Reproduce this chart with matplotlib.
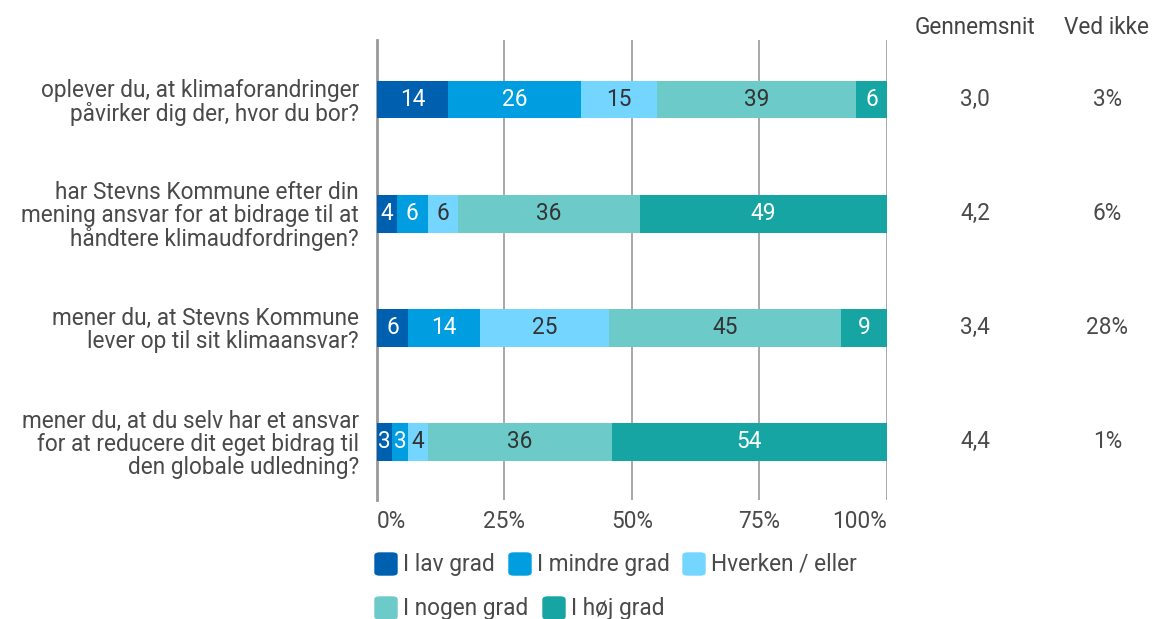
import matplotlib.pyplot as plt
import numpy as np
from matplotlib.patches import FancyBboxPatch

plt.rcParams['font.family'] = ['Roboto', 'DejaVu Sans']

questions = [
    'oplever du, at klimaforandringer\npåvirker dig der, hvor du bor?',
    'har Stevns Kommune efter din\nmening ansvar for at bidrage til at\nhåndtere klimaudfordringen?',
    'mener du, at Stevns Kommune\nlever op til sit klimaansvar?',
    'mener du, at du selv har et ansvar\nfor at reducere dit eget bidrag til\nden globale udledning?',
]
categories = ['I lav grad', 'I mindre grad', 'Hverken / eller', 'I nogen grad', 'I høj grad']
values = np.array([
    [14, 26, 15, 39, 6],
    [4, 6, 6, 36, 49],
    [6, 14, 25, 45, 9],
    [3, 3, 4, 36, 54],
])
averages = ['3,0', '4,2', '3,4', '4,4']
dont_know = ['3%', '6%', '28%', '1%']
xtick_labels = ['0%', '25%', '50%', '75%', '100%']

colors = ['#0060B0', '#009EE0', '#74D6FF', '#6CCBC9', '#17A5A3']
text_colors = ['white', 'white', '#333333', '#333333', 'white']
grey = '#4a4a4a'
FS = 16.3

fig = plt.figure(figsize=(11.54, 6.19), dpi=100)
ax = fig.add_axes([0.3267, 0.192, 0.4419, 0.743])

y = np.arange(len(questions))
shares = values / values.sum(axis=1, keepdims=True) * 100
left = np.zeros(len(questions))
for j, cat in enumerate(categories):
    ax.barh(y, shares[:, j], left=left, height=0.33, color=colors[j], zorder=3)
    for i in range(len(questions)):
        ax.text(left[i] + shares[i, j] / 2, y[i], str(values[i, j]),
                ha='center', va='center', fontsize=FS, color=text_colors[j], zorder=4)
    left += shares[:, j]

ax.set_xlim(0, 100)
ax.set_ylim(3.51, -0.52)
ax.set_xticks([0, 25, 50, 75, 100])
ax.set_xticklabels(xtick_labels, fontsize=FS, color=grey)
# edge labels are pulled inside the plot area
tl = ax.get_xticklabels()
tl[0].set_ha('left')
tl[-1].set_ha('right')
ax.set_yticks(y)
ax.set_yticklabels(questions, fontsize=FS, color=grey, linespacing=1.0)
ax.tick_params(axis='x', length=0, pad=7)
ax.tick_params(axis='y', length=0, pad=13)
ax.grid(axis='x', color='#999999', linewidth=1.2, zorder=0)
for s in ['top', 'right', 'bottom']:
    ax.spines[s].set_visible(False)
ax.spines['left'].set_color('#999999')
ax.spines['left'].set_linewidth(2)

# extra columns
W, H = 1154, 619
fig.text(975 / W, 1 - 27 / H, 'Gennemsnit', ha='center', va='center',
         fontsize=FS, color='#444444')
fig.text(1107 / W, 1 - 27 / H, 'Ved ikke', ha='center', va='center',
         fontsize=FS, color='#444444')
for i in range(len(questions)):
    ax.text(1.173, y[i], averages[i], transform=ax.get_yaxis_transform(),
            ha='center', va='center', fontsize=FS, color=grey)
    ax.text(1.432, y[i], dont_know[i], transform=ax.get_yaxis_transform(),
            ha='center', va='center', fontsize=FS, color=grey)

# legend, flowing over two rows
leg_pos = [(375, 564), (509, 564), (683, 564), (375, 608), (543, 608)]
for (px, py), cat, col in zip(leg_pos, categories, colors):
    box = FancyBboxPatch((px / W, (H - py - 11) / H), 22 / W, 22 / H,
                         boxstyle='round,pad=0,rounding_size=0.004',
                         transform=fig.transFigure, color=col)
    fig.patches.append(box)
    fig.text((px + 28) / W, (H - py) / H, cat, ha='left', va='center',
             fontsize=FS, color=grey)

fig.savefig('out.png', dpi=100)
